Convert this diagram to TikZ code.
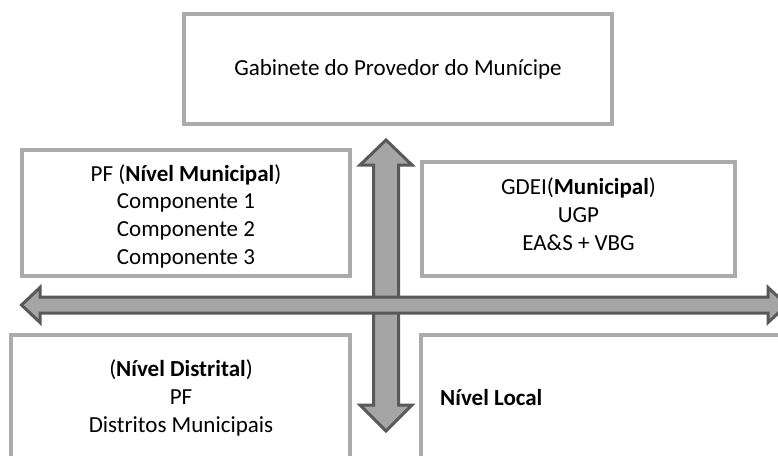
\documentclass[tikz,border=0pt]{standalone}
\usepackage{fontspec}
\setmainfont{Carlito}
\usepackage{tikz}
\usetikzlibrary{positioning}

\definecolor{boxgray}{HTML}{ABABAB}
\definecolor{arrowfill}{HTML}{A5A5A5}
\definecolor{arrowline}{HTML}{595959}

\begin{document}
\begin{tikzpicture}[
x=1pt, y=-1pt,
box/.style={draw=boxgray, line width=3.5pt, fill=white, inner sep=0pt},
label/.style={align=center, inner sep=0pt, font={\fontsize{23}{27.7}\selectfont}},
blockarrow/.style={draw=arrowline, fill=arrowfill, line width=3pt, miter limit=10},
]
\path[use as bounding box] (0,0) rectangle (778,455);
\clip (0,0) rectangle (778,455);

% boxes
\node[box, minimum width=428pt, minimum height=110pt] (gabinete) at (398,69) {};
\node[box, minimum width=328pt, minimum height=126pt] (pfmun) at (186,213) {};
\node[box, minimum width=313pt, minimum height=114pt] (gdei) at (578.5,219) {};
\node[box, minimum width=339pt, minimum height=150pt] (distrital) at (180.5,410) {};
\node[box, minimum width=380pt, minimum height=150pt] (local) at (611,410) {};

% texts
\node[label] (gabineteText) at (gabinete.center) {Gabinete do Provedor do Munícipe};
\node[label] (pfmunText) at (186,216) {PF (\textbf{Nível Municipal})\\Componente 1\\Componente 2\\Componente 3};
\node[label] (gdeiText) at (578.5,214) {GDEI(\textbf{Municipal})\\UGP\\EA\&S + VBG};
\node[label] (distritalText) at (181,398) {(\textbf{Nível Distrital})\\PF\\Distritos Municipais};
\node[label, anchor=west] (localText) at (440,398) {\textbf{Nível Local}};

% vertical double arrow
\draw[blockarrow] (373.5,165) -- (360,165) -- (386,140) -- (412,165) -- (398.5,165)
  -- (398.5,405) -- (412,405) -- (386,431) -- (360,405) -- (373.5,405) -- cycle;

% horizontal double arrow
\draw[blockarrow] (40,297) -- (40,287.5) -- (21.5,305) -- (40,322.5) -- (40,313)
  -- (768,313) -- (768,322.5) -- (787,305) -- (768,287.5) -- (768,297) -- cycle;
\end{tikzpicture}
\end{document}
